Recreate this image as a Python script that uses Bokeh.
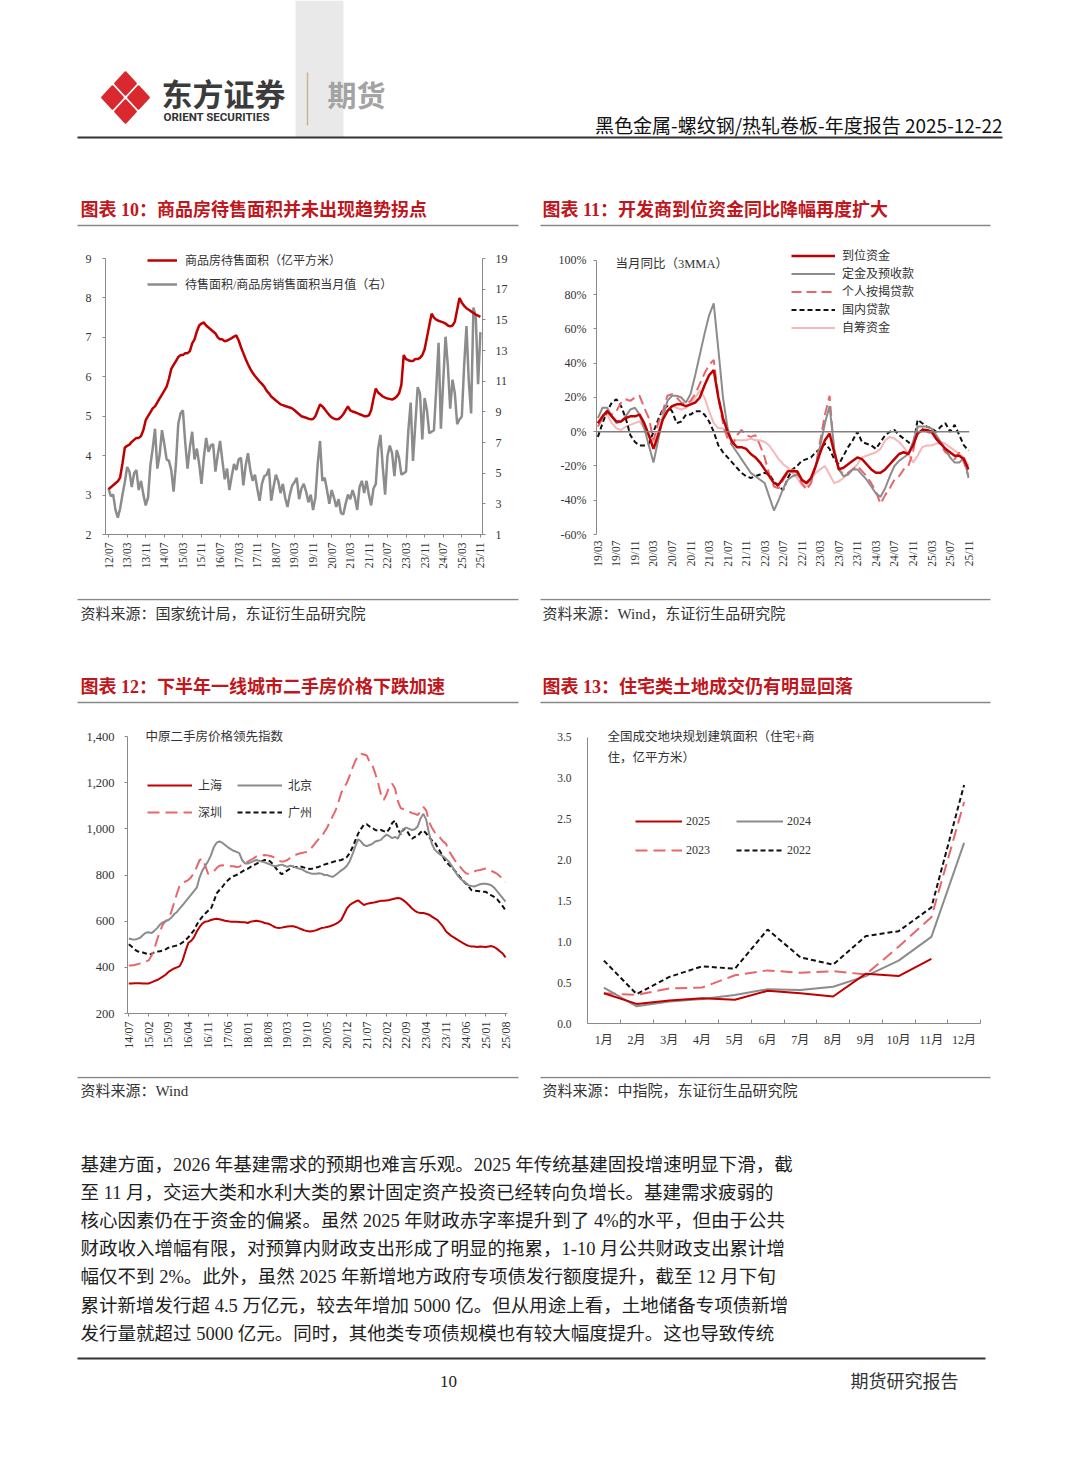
import numpy as np
from bokeh.plotting import figure
from bokeh.models import (Range1d, LinearAxis, FixedTicker, Span, Legend, LegendItem,
                          NumeralTickFormatter, Label)
from bokeh.layouts import column, row
from bokeh.embed import file_html
from bokeh.resources import INLINE
from bokeh.core.properties import value

# ---------------------------------------------------------------- data
c10_names = ["商品房待售面积（亿平方米）", "待售面积/商品房销售面积当月值（右）"]
c10_xlabels = ["12/07", "13/03", "13/11", "14/07", "15/03", "15/11", "16/07", "17/03", "17/11",
               "18/07", "19/03", "19/11", "20/07", "21/03", "21/11", "22/07", "23/03", "23/11",
               "24/07", "25/03", "25/11"]
c10_stock = [
    3.15, 3.2, 3.25, 3.3, 3.35, 3.45, 3.8, 4.2, 4.25, 4.28,
    4.35, 4.4, 4.45, 4.45, 4.5, 4.65, 4.9, 5.0, 5.1, 5.2,
    5.25, 5.35, 5.45, 5.55, 5.65, 5.75, 5.95, 6.2, 6.3, 6.4,
    6.5, 6.55, 6.55, 6.6, 6.6, 6.65, 6.85, 6.95, 7.15, 7.3,
    7.35, 7.38, 7.3, 7.25, 7.2, 7.15, 7.1, 7.0, 6.95, 6.95,
    6.9, 6.92, 6.95, 6.98, 7.02, 7.05, 6.92, 6.75, 6.6, 6.45,
    6.32, 6.2, 6.1, 6.02, 5.95, 5.88, 5.82, 5.75, 5.65, 5.58,
    5.5, 5.45, 5.4, 5.35, 5.3, 5.28, 5.26, 5.24, 5.22, 5.2,
    5.15, 5.1, 5.05, 5.0, 4.98, 4.96, 4.94, 4.92, 4.93, 5.0,
    5.15, 5.3, 5.25, 5.18, 5.1, 5.03, 4.97, 4.94, 4.92, 4.93,
    4.98, 5.05, 5.15, 5.25, 5.15, 5.12, 5.1, 5.08, 5.05, 5.03,
    5.0, 5.0, 5.02, 5.15, 5.45, 5.7, 5.6, 5.55, 5.5, 5.47,
    5.45, 5.44, 5.42, 5.45, 5.5, 5.58, 5.8, 6.55, 6.45, 6.42,
    6.4, 6.4, 6.45, 6.45, 6.48, 6.55, 6.7, 7.0, 7.3, 7.6,
    7.5, 7.45, 7.42, 7.4, 7.38, 7.35, 7.3, 7.28, 7.3, 7.4,
    7.7, 8.0, 7.88, 7.8, 7.74, 7.7, 7.66, 7.62, 7.58, 7.55,
    7.52]
c10_ratio = [
    4.0, 3.5, 3.6, 2.6, 2.1, 2.7, 3.6, 4.4, 5.4, 5.1,
    4.1, 5.0, 5.2, 3.9, 4.5, 3.6, 2.9, 3.4, 5.5, 6.6,
    7.9, 5.3, 6.2, 7.8, 6.9, 5.9, 5.8, 5.2, 3.8, 5.6,
    8.2, 8.9, 9.1, 7.0, 5.3, 6.7, 7.7, 5.9, 6.6, 5.6,
    4.3, 6.0, 7.3, 6.4, 6.8, 6.9, 5.1, 6.2, 7.1, 5.8,
    4.6, 5.3, 3.9, 4.8, 5.6, 5.2, 5.9, 6.0, 4.2, 5.5,
    6.3, 5.2, 4.5, 4.9, 4.0, 3.2, 4.3, 4.8, 4.9, 5.3,
    3.2, 4.1, 4.9, 4.5, 3.7, 4.3, 3.4, 2.8, 3.6, 4.2,
    4.4, 4.7, 3.3, 4.0, 4.3, 3.8, 3.1, 3.6, 2.6, 3.4,
    5.6, 7.1, 4.5, 4.7, 3.9, 3.0, 3.9, 3.4, 2.8, 3.3,
    2.4, 2.3, 3.0, 3.6, 3.3, 3.9, 3.4, 2.6, 4.1, 4.5,
    3.7, 4.5, 3.6, 2.9, 4.0, 4.3, 6.6, 7.5, 5.4, 3.6,
    6.1, 6.8, 6.3, 4.8, 6.5, 6.0, 4.9, 5.0, 5.1, 7.8,
    9.6, 5.8, 8.2, 10.6, 10.2, 7.2, 9.9, 9.1, 7.6, 7.7,
    7.8, 10.5, 13.5, 7.9, 11.0, 13.9, 12.0, 9.2, 11.1, 10.2,
    8.2, 8.5, 8.7, 12.0, 14.6, 11.0, 8.9, 15.8, 15.2, 10.8,
    14.2]

c11_names = ["到位资金", "定金及预收款", "个人按揭贷款", "国内贷款", "自筹资金"]
c11_xlabels = ["19/03", "19/07", "19/11", "20/03", "20/07", "20/11", "21/03", "21/07", "21/11",
               "22/03", "22/07", "22/11", "23/03", "23/07", "23/11", "24/03", "24/07", "24/11",
               "25/03", "25/07", "25/11"]
c11_total = [5, 9, 12, 9, 6, 6, 8, 9, 9, 10,
             5, -2, -10, -2, 7, 12, 15, 16, 16, 15,
             16, 17, 20, 27, 33, 36, 20, 8, 0, -6,
             -9, -9, -10, -13, -15, -18, -22, -26, -30, -31,
             -27, -23, -23, -23, -28, -30, -27, -20, -12, -5,
             -1, -12, -22, -21, -19, -17, -15, -16, -19, -22,
             -24, -24, -22, -19, -16, -13, -12, -13, -8, -1,
             1, 1, 0, -4, -7, -10, -12, -14, -14, -16,
             -22]
c11_deposit = [8, 14, 14, 9, 5, 6, 9, 13, 14, 10,
               2, -8, -18, -5, 8, 18, 21, 21, 20, 17,
               22, 33, 45, 57, 68, 75, 48, 20, 2, -8,
               -12, -16, -20, -24, -26, -28, -30, -38, -46, -40,
               -33, -28, -26, -25, -28, -30, -28, -20, -8, 5,
               15, -10, -22, -26, -25, -22, -22, -25, -28, -32,
               -36, -38, -33, -26, -20, -17, -15, -13, -6, 3,
               3, 3, 2, -2, -6, -10, -15, -18, -18, -15,
               -27]
c11_mortgage = [3, 8, 12, 10, 12, 17, 19, 18, 20, 21,
                14, 8, -5, 5, 12, 21, 22, 20, 17, 16,
                18, 22, 28, 34, 39, 42, 20, 5, -4, -8,
                -2, 1, -2, -3, -2, -8, -15, -25, -32, -33,
                -28, -24, -22, -24, -30, -34, -30, -20, -5, 10,
                21, -12, -22, -25, -24, -22, -20, -23, -26, -30,
                -35, -42, -37, -33, -28, -26, -22, -20, -12, 3,
                2, 0, -1, -4, -8, -12, -14, -16, -12, -18,
                -26]
c11_domestic = [-3, 5, 12, 17, 19, 15, 8, -2, -6, -8,
                -8, -7, 0, 7, 13, 15, 12, 5, 6, 10,
                10, 12, 12, 10, 6, 0, -8, -12, -15, -18,
                -21, -24, -26, -27, -26, -25, -24, -25, -29, -32,
                -34, -27, -22, -20, -17, -16, -15, -12, -10, -7,
                -10, -16, -19, -14, -9, -5, 0, -6, -7, -8,
                -10, -6, -2, 0, 1, -2, -4, -6, -9, 7,
                5, 3, 2, 0, 3, 5, 0, 4, -2, -8,
                -11]
c11_selffund = [5, 8, 10, 5, 2, 1, 3, 4, 5, 6,
                2, -3, -6, 0, 9, 12, 15, 14, 13, 14,
                16, 20, 24, 20, 12, 5, 2, 2, -3, -5,
                -5, -5, -5, -4, -5, -5, -6, -8, -12, -16,
                -19, -21, -24, -27, -31, -32, -28, -24, -22, -20,
                -25, -30, -29, -27, -24, -22, -19, -15, -14, -13,
                -12, -10, -5, -3, -4, -6, -9, -13, -18, -14,
                -9, -8, -8, -7, -6, -7, -9, -11, -13, -15,
                -20]

c12_names = ["上海", "北京", "深圳", "广州"]
c12_xlabels = ["14/07", "15/02", "15/09", "16/04", "16/11", "17/06", "18/01", "18/08", "19/03",
               "19/10", "20/05", "20/12", "21/07", "22/02", "22/09", "23/04", "23/11", "24/06",
               "25/01", "25/08"]
c12_sh = [330, 330, 331, 331, 331, 330, 330, 330, 335, 340,
          345, 352, 360, 368, 380, 388, 395, 400, 405, 430,
          470, 505, 515, 530, 555, 575, 590, 598, 600, 605,
          608, 610, 608, 605, 602, 600, 598, 597, 597, 596,
          595, 595, 592, 598, 600, 602, 600, 597, 592, 590,
          585, 578, 572, 570, 572, 575, 577, 578, 578, 575,
          570, 565, 560, 557, 555, 557, 560, 565, 570, 572,
          575, 578, 582, 588, 595, 605, 630, 655, 670, 678,
          685, 690, 680, 670, 675, 678, 680, 682, 685, 688,
          688, 690, 692, 695, 698, 700, 698, 690, 680, 668,
          655, 645, 638, 635, 635, 632, 628, 620, 612, 605,
          590, 575, 555, 545, 535, 528, 520, 512, 505, 498,
          493, 490, 490, 488, 490, 489, 488, 490, 492, 488,
          480, 470, 460, 443]
c12_bj = [525, 522, 520, 523, 528, 540, 550, 552, 548, 558,
          570, 585, 595, 600, 605, 615, 630, 640, 655, 670,
          685, 700, 715, 730, 745, 790, 820, 840, 860, 885,
          920, 940, 945, 940, 930, 920, 912, 905, 900, 895,
          865, 850, 850, 855, 860, 865, 862, 858, 855, 850,
          845, 840, 838, 842, 845, 840, 835, 840, 838, 832,
          828, 825, 818, 812, 808, 805, 805, 808, 806, 800,
          800, 795, 792, 800, 810, 820, 828, 840, 860, 890,
          925, 955, 945, 930, 925, 930, 935, 945, 948, 952,
          965, 975, 968, 960, 965, 958, 985, 1000, 1005, 1000,
          995, 998, 1010, 1045, 1065, 1040, 980, 935, 910, 898,
          888, 880, 870, 858, 840, 820, 800, 785, 775, 765,
          755, 752, 750, 755, 760, 762, 762, 760, 755, 745,
          730, 715, 700, 685]
c12_sz = [408, 408, 410, 413, 417, 420, 425, 430, 450, 480,
          520, 555, 585, 600, 610, 640, 680, 720, 755, 765,
          772, 778, 790, 810, 835, 865, 870, 840, 805, 808,
          815, 830, 840, 842, 840, 840, 838, 838, 835, 836,
          845, 852, 858, 865, 872, 880, 882, 885, 887, 885,
          882, 878, 870, 862, 858, 860, 865, 875, 885, 888,
          892, 895, 898, 900, 910, 925, 940, 955, 965, 985,
          1005, 1030, 1055, 1080, 1115, 1155, 1180, 1200, 1230, 1265,
          1295, 1318, 1325, 1322, 1318, 1290, 1275, 1240, 1200, 1150,
          1125, 1150, 1185, 1195, 1175, 1120, 1090, 1085, 1080, 1075,
          1068, 1065, 1060, 1075, 1095, 1080, 1030, 1005, 985, 975,
          960, 945, 935, 905, 885, 865, 850, 835, 820, 808,
          805, 808, 815, 820, 822, 825, 828, 825, 818, 812,
          805, 795, 782, 770]
c12_gz = [500, 490, 478, 470, 466, 464, 460, 455, 458, 465,
          468, 470, 472, 478, 485, 488, 492, 495, 500, 508,
          518, 530, 545, 560, 585, 604, 620, 633, 645, 654,
          685, 720, 735, 748, 765, 777, 788, 795, 800, 806,
          815, 822, 827, 835, 842, 848, 855, 860, 865, 866,
          858, 845, 828, 815, 803, 812, 820, 828, 835, 835,
          835, 836, 832, 828, 826, 828, 832, 835, 840, 845,
          849, 852, 856, 860, 862, 865, 870, 878, 895, 920,
          950, 980, 1000, 1018, 1020, 1010, 1005, 995, 992, 995,
          990, 985, 1000, 1025, 1036, 1000, 975, 1000, 995, 975,
          957, 965, 970, 985, 993, 980, 964, 950, 943, 920,
          900, 878, 856, 845, 832, 820, 805, 790, 775, 763,
          750, 734, 732, 731, 730, 728, 727, 720, 712, 705,
          695, 680, 665, 647]

c13_months = ["1月", "2月", "3月", "4月", "5月", "6月", "7月", "8月", "9月", "10月", "11月", "12月"]
c13_names = ["2025", "2024", "2023", "2022"]
c13_2025 = [0.37, 0.24, 0.28, 0.31, 0.29, 0.40, 0.37, 0.33, 0.61, 0.58, 0.79]
c13_2024 = [0.44, 0.21, 0.27, 0.30, 0.35, 0.42, 0.41, 0.45, 0.58, 0.77, 1.06, 2.21]
c13_2023 = [0.37, 0.35, 0.43, 0.44, 0.59, 0.65, 0.62, 0.64, 0.60, 0.94, 1.30, 2.71]
c13_2022 = [0.77, 0.36, 0.57, 0.70, 0.67, 1.15, 0.81, 0.72, 1.07, 1.13, 1.42, 2.92]

body_lines = [
    "基建方面，2026 年基建需求的预期也难言乐观。2025 年传统基建固投增速明显下滑，截",
    "至 11 月，交运大类和水利大类的累计固定资产投资已经转向负增长。基建需求疲弱的",
    "核心因素仍在于资金的偏紧。虽然 2025 年财政赤字率提升到了 4%的水平，但由于公共",
    "财政收入增幅有限，对预算内财政支出形成了明显的拖累，1-10 月公共财政支出累计增",
    "幅仅不到 2%。此外，虽然 2025 年新增地方政府专项债发行额度提升，截至 12 月下旬",
    "累计新增发行超 4.5 万亿元，较去年增加 5000 亿。但从用途上看，土地储备专项债新增",
    "发行量就超过 5000 亿元。同时，其他类专项债规模也有较大幅度提升。这也导致传统",
]

# ---------------------------------------------------------------- style
SERIF = "'Liberation Serif', 'Noto Sans CJK SC'"
CJK = "'Noto Sans CJK SC'"
RED = "#c00000"
GREY = "#8c8c8c"
LRED = "#e8666b"
PINK = "#f5b7ba"
BLACK = "#111111"
AXC = "#8a8a8a"
TXT = "#333333"
TITLE_RED = "#c0161c"


def base_fig(w, h, xr, yr, ml, mr, mt, mb):
    p = figure(width=w, height=h, x_range=xr, y_range=yr, output_backend="svg",
               toolbar_location=None, min_border_left=ml, min_border_right=mr,
               min_border_top=mt, min_border_bottom=mb, outline_line_color=None,
               background_fill_color="white", border_fill_color="white")
    p.grid.visible = False
    return p


def style_axis(ax, size, tick_out=3, standoff=8):
    ax.axis_line_color = AXC
    ax.axis_line_width = 1
    ax.major_tick_line_color = AXC
    ax.major_tick_in = 0
    ax.major_tick_out = tick_out
    ax.minor_tick_line_color = None
    ax.major_label_text_font = SERIF
    ax.major_label_text_font_size = size
    ax.major_label_text_color = TXT
    ax.major_label_standoff = standoff


def make_legend(items, loc, orientation, gw, gh, spacing, standoff, size):
    return Legend(items=items, location=loc, orientation=orientation, glyph_width=gw,
                  glyph_height=gh, label_height=gh, spacing=spacing, padding=0, margin=0,
                  label_standoff=standoff, border_line_color=None, background_fill_alpha=0,
                  label_text_font=SERIF, label_text_font_size=size, label_text_color=TXT)


# ---------------------------------------------------------------- chart 10
x10 = list(range(len(c10_stock)))
p10 = base_fig(522, 368, Range1d(-1.3, 160.9), Range1d(2, 9.254), 105, 40, 18, 64)
p10.extra_y_ranges = {"right": Range1d(1, 19.653)}
r10b = p10.line(x10, c10_ratio, line_color=GREY, line_width=2.5, y_range_name="right")
r10a = p10.line(x10, c10_stock, line_color=RED, line_width=2.5)
ax10r = LinearAxis(y_range_name="right", ticker=FixedTicker(ticks=list(range(1, 20, 2))))
p10.add_layout(ax10r, "right")
ax10l = p10.left[0]
ax10l.ticker = FixedTicker(ticks=list(range(2, 10)))
ax10l.bounds = (2, 9)
ax10r.bounds = (1, 19)
ax10x = p10.below[0]
t10 = list(range(0, len(c10_stock), 8))
ax10x.ticker = FixedTicker(ticks=t10)
ax10x.major_label_overrides = {t: s for t, s in zip(t10, c10_xlabels)}
ax10x.major_label_orientation = np.pi / 2
style_axis(ax10l, "12px", standoff=11)
style_axis(ax10r, "12px", standoff=10)
style_axis(ax10x, "11.5px", standoff=5)
p10.add_layout(make_legend([LegendItem(label=c10_names[0], renderers=[r10a]),
                            LegendItem(label=c10_names[1], renderers=[r10b])],
                           (42, 241), "vertical", 30, 16, 6, 8, "12px"))

# ---------------------------------------------------------------- chart 11
x11 = list(range(len(c11_total)))
p11 = base_fig(542, 368, Range1d(-0.3, 80.2), Range1d(-60, 107.0), 74, 95, 18, 64)
p11.add_layout(Span(location=0, dimension="width", line_color="#808080", line_width=1.5))
r11e = p11.line(x11, c11_selffund, line_color=PINK, line_width=2)
r11d = p11.line(x11, c11_domestic, line_color=BLACK, line_width=2, line_dash="5 3")
r11c = p11.line(x11, c11_mortgage, line_color=LRED, line_width=2, line_dash="10 5")
r11b = p11.line(x11, c11_deposit, line_color=GREY, line_width=2)
r11a = p11.line(x11, c11_total, line_color=RED, line_width=2.5)
ax11y = p11.left[0]
yt11 = list(range(-60, 101, 20))
ax11y.ticker = FixedTicker(ticks=yt11)
ax11y.major_label_overrides = {v: f"{v}%" for v in yt11}
ax11y.bounds = (-60, 100)
ax11x = p11.below[0]
t11 = list(range(0, len(c11_total), 4))
ax11x.ticker = FixedTicker(ticks=t11)
ax11x.major_label_overrides = {t: s for t, s in zip(t11, c11_xlabels)}
ax11x.major_label_orientation = np.pi / 2
style_axis(ax11y, "12px", standoff=7)
style_axis(ax11x, "11.5px", tick_out=0, standoff=6)
ax11x.axis_line_color = None
p11.add_layout(make_legend([LegendItem(label=n, renderers=[r]) for n, r in
                            zip(c11_names, [r11a, r11b, r11c, r11d, r11e])],
                           (195, 198), "vertical", 44, 15, -3, 7, "12px"))
p11.add_layout(Label(x=3.8, y=97.7, text="当月同比（3MMA）", text_font=SERIF,
                     text_font_size="12.5px", text_color=TXT, text_baseline="middle"))

# ---------------------------------------------------------------- chart 12
x12 = list(range(len(c12_sh)))
p12 = base_fig(522, 354, Range1d(-0.46, 133.7), Range1d(200, 1452), 127, 15, 2, 63)
r12d = p12.line(x12, c12_gz, line_color=BLACK, line_width=2, line_dash="5 3")
r12c = p12.line(x12, c12_sz, line_color=LRED, line_width=2, line_dash="12 6")
r12b = p12.line(x12, c12_bj, line_color=GREY, line_width=2)
r12a = p12.line(x12, c12_sh, line_color=RED, line_width=2)
ax12y = p12.left[0]
ax12y.ticker = FixedTicker(ticks=list(range(200, 1401, 200)))
ax12y.formatter = NumeralTickFormatter(format="0,0")
ax12y.bounds = (200, 1400)
ax12x = p12.below[0]
t12 = list(range(0, len(c12_sh), 7))
ax12x.ticker = FixedTicker(ticks=t12)
ax12x.major_label_overrides = {t: s for t, s in zip(t12, c12_xlabels)}
ax12x.major_label_orientation = np.pi / 2
style_axis(ax12y, "12.5px", standoff=10)
style_axis(ax12x, "12px", standoff=5)
p12.add_layout(make_legend([LegendItem(label=c12_names[0], renderers=[r12a]),
                            LegendItem(label=c12_names[1], renderers=[r12b])],
                           (20, 219), "horizontal", 45, 16, 15, 6, "12px"))
p12.add_layout(make_legend([LegendItem(label=c12_names[2], renderers=[r12c]),
                            LegendItem(label=c12_names[3], renderers=[r12d])],
                           (20, 192), "horizontal", 45, 16, 15, 6, "12px"))
p12.add_layout(Label(x=5.9, y=1400, text="中原二手房价格领先指数", text_font=SERIF,
                     text_font_size="12.5px", text_color=TXT, text_baseline="middle"))

# ---------------------------------------------------------------- chart 13
p13 = base_fig(542, 354, Range1d(0.5, 12.5), Range1d(0, 3.659), 65, 84, 2, 53)
r13d = p13.line(list(range(1, len(c13_2022) + 1)), c13_2022, line_color=BLACK, line_width=2,
                line_dash="5 3")
r13c = p13.line(list(range(1, len(c13_2023) + 1)), c13_2023, line_color=LRED, line_width=2,
                line_dash="12 6")
r13b = p13.line(list(range(1, len(c13_2024) + 1)), c13_2024, line_color=GREY, line_width=2)
r13a = p13.line(list(range(1, len(c13_2025) + 1)), c13_2025, line_color=RED, line_width=2)
ax13y = p13.left[0]
ax13y.ticker = FixedTicker(ticks=[0, 0.5, 1.0, 1.5, 2.0, 2.5, 3.0, 3.5])
ax13y.formatter = NumeralTickFormatter(format="0.0")
ax13y.bounds = (0, 3.5)
ax13x = p13.below[0]
mt13 = list(range(1, len(c13_months) + 1))
ax13x.ticker = FixedTicker(ticks=mt13, minor_ticks=[m - 0.5 for m in mt13] + [12.5])
ax13x.major_label_overrides = {m: s for m, s in zip(mt13, c13_months)}
style_axis(ax13y, "11.5px", tick_out=0, standoff=16)
style_axis(ax13x, "12px", tick_out=0, standoff=9)
ax13x.minor_tick_line_color = AXC
ax13x.minor_tick_in = 4
ax13x.minor_tick_out = 0
p13.add_layout(make_legend([LegendItem(label=c13_names[0], renderers=[r13a]),
                            LegendItem(label=c13_names[1], renderers=[r13b])],
                           (48, 194), "horizontal", 47, 16, 26, 4, "12px"))
p13.add_layout(make_legend([LegendItem(label=c13_names[2], renderers=[r13c]),
                            LegendItem(label=c13_names[3], renderers=[r13d])],
                           (48, 165), "horizontal", 47, 16, 26, 4, "12px"))
p13.add_layout(Label(x=1.11, y=3.51, text="全国成交地块规划建筑面积（住宅+商", text_font=SERIF,
                     text_font_size="12.5px", text_color=TXT, text_baseline="middle"))
p13.add_layout(Label(x=1.11, y=3.255, text="住，亿平方米）", text_font=SERIF,
                     text_font_size="12.5px", text_color=TXT, text_baseline="middle"))


# ---------------------------------------------------------------- page decoration
def deco(h, y_top):
    p = figure(width=1064, height=h, x_range=Range1d(0, 1064), y_range=Range1d(y_top + h, y_top),
               output_backend="svg", toolbar_location=None, min_border=0,
               outline_line_color=None, x_axis_location=None, y_axis_location=None,
               background_fill_color="white", border_fill_color="white")
    p.grid.visible = False
    return p


def txt(p, x, y, s, size, color=TXT, font=CJK, align="left", style="normal"):
    p.text(x=[x], y=[y], text=[s], text_font=value(font), text_font_size=size,
           text_color=color, text_align=align, text_baseline="middle", text_font_style=style)


def hline(p, x0, x1, y, color="#888888", width=1.5):
    p.line([x0, x1], [y, y], line_color=color, line_width=width)


# header (page y 0..230)
hd = deco(230, 0)
hd.quad(left=[295], right=[343], top=[0], bottom=[137], fill_color="#e9e9e9", line_color=None)
cx, cy, w, h = 125, 97, 26, 28
T, R, B, L, C = (cx, cy - h), (cx + w, cy), (cx, cy + h), (cx - w, cy), (cx, cy)
mid = lambda a, b: ((a[0] + b[0]) / 2, (a[1] + b[1]) / 2)
TR, RB, BL, LT = mid(T, R), mid(R, B), mid(B, L), mid(L, T)
xs, ys = [], []
for poly in ([T, TR, C, LT], [TR, R, RB, C], [C, RB, B, BL], [LT, C, BL, L]):
    mx = sum(q[0] for q in poly) / 4
    my = sum(q[1] for q in poly) / 4
    xs.append([mx + (q[0] - mx) * 0.8 for q in poly])
    ys.append([my + (q[1] - my) * 0.8 for q in poly])
hd.patches(xs, ys, fill_color="#d9292e", line_color="#d9292e", line_width=2, line_join="round")
txt(hd, 161, 92, "东方证券", "31px", color="#3b3b3b", style="bold")
txt(hd, 163, 116, "ORIENT SECURITIES", "11.5px", color="#333333", font="Roboto", style="bold")
hd.line([307, 307], [72, 125], line_color="#c9b690", line_width=1.5)
txt(hd, 327, 93, "期货", "29px", color="#a3a3a3", style="bold")
txt(hd, 1002, 124, "黑色金属-螺纹钢/热轧卷板-年度报告 2025-12-22", "19px", color="#111111",
    align="right")
hline(hd, 77, 1002, 137, color="#333333", width=2.2)
txt(hd, 80, 209, "图表 10：商品房待售面积并未出现趋势拐点", "18px", color=TITLE_RED, font=SERIF,
    style="bold")
txt(hd, 542, 209, "图表 11：开发商到位资金同比降幅再度扩大", "18px", color=TITLE_RED, font=SERIF,
    style="bold")
hline(hd, 77, 518, 225)
hline(hd, 540, 990, 225)

# middle band (page y 598..722)
md = deco(124, 598)
hline(md, 77, 518, 599)
hline(md, 540, 990, 599)
txt(md, 80, 613, "资料来源：国家统计局，东证衍生品研究院", "15px", font=SERIF)
txt(md, 542, 613, "资料来源：Wind，东证衍生品研究院", "15px", font=SERIF)
txt(md, 80, 686, "图表 12：下半年一线城市二手房价格下跌加速", "18px", color=TITLE_RED, font=SERIF,
    style="bold")
txt(md, 542, 686, "图表 13：住宅类土地成交仍有明显回落", "18px", color=TITLE_RED, font=SERIF,
    style="bold")
hline(md, 77, 518, 702)
hline(md, 540, 990, 702)

# bottom band (page y 1076..1410)
bt = deco(334, 1076)
hline(bt, 77, 518, 1077)
hline(bt, 540, 990, 1077)
txt(bt, 80, 1090, "资料来源：Wind", "15px", font=SERIF)
txt(bt, 542, 1090, "资料来源：中指院，东证衍生品研究院", "15px", font=SERIF)
for k, s in enumerate(body_lines):
    txt(bt, 80, 1164 + k * 28.2, s, "18.5px", color="#1e1e1e", font=SERIF)
hline(bt, 77, 985, 1358, color="#333333", width=2)
txt(bt, 448, 1381, "10", "17px", color="#222222", font=SERIF, align="center")
txt(bt, 850, 1381, "期货研究报告", "18px", color="#333333", font=SERIF)

layout = column(hd, row(p10, p11), md, row(column(p12), column(p13)), bt)
open("out.html", "w", encoding="utf-8").write(file_html(layout, INLINE))
